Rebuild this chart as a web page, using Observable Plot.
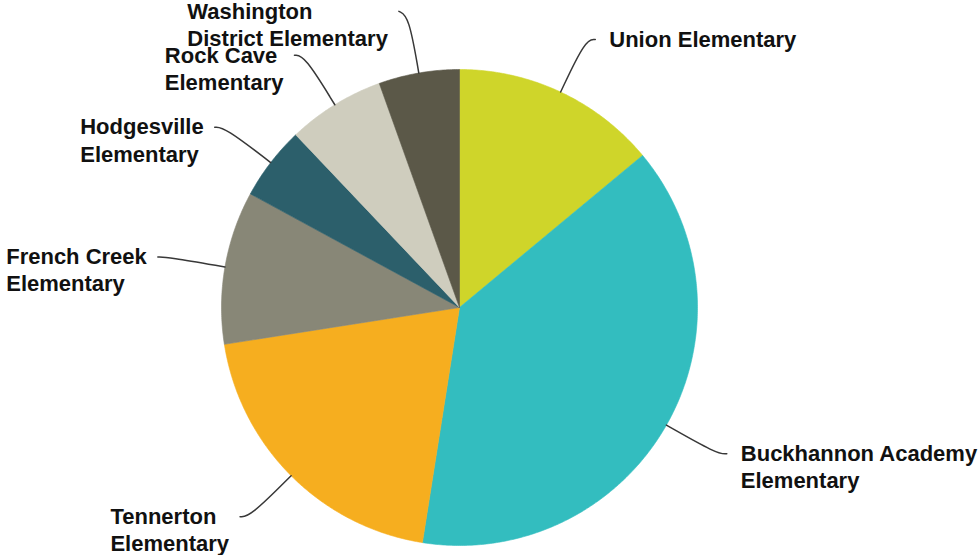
<!DOCTYPE html>
<html><head><meta charset="utf-8">
<script src="https://cdn.jsdelivr.net/npm/d3@7"></script>
<script src="https://cdn.jsdelivr.net/npm/@observablehq/plot@0.6"></script>
<style>body{margin:0;background:#fff}</style>
</head><body><div id="chart"></div>
<script>
// ---- data ----
const schools = ["Union Elementary", "Buckhannon Academy Elementary", "Tennerton Elementary", "French Creek Elementary", "Hodgesville Elementary", "Rock Cave Elementary", "Washington District Elementary"];
const labelLines = ["Union Elementary", "Buckhannon Academy\nElementary", "Tennerton\nElementary", "French Creek\nElementary", "Hodgesville\nElementary", "Rock Cave\nElementary", "Washington\nDistrict Elementary"];
const shares = [13.97, 38.52, 20.04, 10.39, 5.0, 6.61, 5.47];
const colors = ["#cfd52a", "#33bdbf", "#f6ae1f", "#888777", "#2c5f6b", "#cfcdbe", "#5b5848"];

// ---- layout ----
const W = 980, H = 555, CX = 459, CY = 307, R = 238;
const FONT_SIZE = 22, LINE_H = 1.23;
const fontFamily = "'Liberation Sans', Arial, Helvetica, sans-serif";

const pie = d3.pie().sort(null).value(d => d.value)(
  schools.map((name, i) => ({name, value: shares[i], label: labelLines[i]}))
);

// slice polygons (angles clockwise from north, y up)
const slicePts = [];
for (const a of pie) {
  const n = Math.max(2, Math.ceil((a.endAngle - a.startAngle) / (Math.PI / 360)));
  slicePts.push({name: a.data.name, x: 0, y: 0});
  for (let k = 0; k <= n; k++) {
    const t = a.startAngle + (a.endAngle - a.startAngle) * k / n;
    slicePts.push({name: a.data.name, x: R * Math.sin(t), y: R * Math.cos(t)});
  }
  slicePts.push({name: a.data.name, x: 0, y: 0});
}

// labels
const ctx = document.createElement("canvas").getContext("2d");
ctx.font = `bold ${FONT_SIZE}px ${fontFamily}`;
const labels = pie.map(a => {
  const mid = (a.startAngle + a.endAngle) / 2;
  const right = Math.sin(mid) >= 0;
  const p0 = {x: R * Math.sin(mid), y: R * Math.cos(mid)};
  const p1 = {x: (R + 58) * Math.sin(mid), y: (R + 58) * Math.cos(mid)};
  const width = Math.max(...a.data.label.split("\n").map(s => ctx.measureText(s).width));
  return {name: a.data.name, label: a.data.label, right, p0, p1, ex: p1.x + (right ? 10 : -10), ey: p1.y, width};
});
// simple overlap avoidance per side (push upper labels up)
for (const side of [true, false]) {
  const group = labels.filter(d => d.right === side).sort((a, b) => a.ey - b.ey);
  for (let i = 1; i < group.length; i++) {
    if (group[i].ey < group[i - 1].ey + 44) group[i].ey = group[i - 1].ey + 44;
  }
}
const connPts = labels.flatMap(d => [
  {name: d.name, x: d.p0.x, y: d.p0.y},
  {name: d.name, x: d.p1.x, y: d.p1.y},
  {name: d.name, x: d.ex, y: d.ey}
]);
const textPts = labels.map(d => ({
  label: d.label,
  x: d.right ? d.ex + 14 : d.ex - 11 - d.width,
  y: d.ey
}));

const chart = Plot.plot({
  width: W,
  height: H,
  margin: 0,
  x: {domain: [-CX, W - CX], axis: null},
  y: {domain: [-(H - CY), CY], axis: null},
  color: {domain: schools, range: colors},
  marks: [
    Plot.line(slicePts, {x: "x", y: "y", z: "name", fill: "name", stroke: "name", strokeWidth: 0.6, curve: "linear"}),
    Plot.line(connPts, {x: "x", y: "y", z: "name", stroke: "#383838", strokeWidth: 1.5, curve: "basis"}),
    Plot.text(textPts, {
      x: "x", y: "y", text: "label",
      textAnchor: "start", lineAnchor: "top", dy: -12,
      fontSize: FONT_SIZE, fontWeight: "bold", fontFamily,
      lineHeight: LINE_H, fill: "#111"
    })
  ]
});
document.getElementById("chart").appendChild(chart);
</script>
</body></html>
